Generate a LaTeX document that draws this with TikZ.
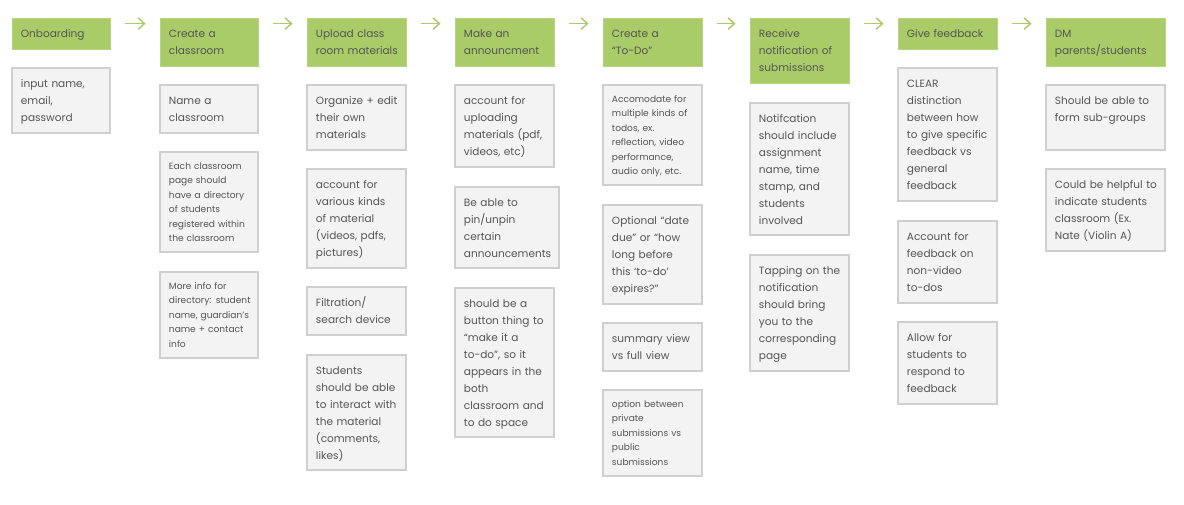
\documentclass[tikz,border=0pt]{standalone}
\usepackage{fontspec}
\setmainfont{Poppins}
\usetikzlibrary{fit,calc,arrows.meta}
\definecolor{hdrgreen}{HTML}{A9CB68}
\definecolor{cardfill}{HTML}{F3F3F3}
\definecolor{cardline}{HTML}{CFCFCF}
\definecolor{txtgray}{HTML}{555555}
\tikzset{
  hdr/.style={fill=hdrgreen, draw=hdrgreen!85!white, line width=0.6pt, inner sep=0pt},
  box/.style={fill=cardfill, draw=cardline, line width=1.1pt, inner sep=0pt},
  big/.style={font=\fontsize{7.9}{12.75}\selectfont, text=txtgray, text width=140pt, align=left, inner sep=0pt},
  small/.style={font=\fontsize{6.8}{10.9}\selectfont, text=txtgray, text width=140pt, align=left, inner sep=0pt},
  arr/.style={draw=hdrgreen, line width=1.1pt, -{Straight Barb[length=4.8pt,width=8.5pt,line width=1.1pt]}}
}
\newcommand\mkcard[9]{%
  \node[#2, fit={(#4,#5) (#6,#7)}] (#1) {};
  \node[#3, anchor=base west] (#1-t) at ({#4+8.7},{#5+#8}) {#9};
}
\begin{document}
\begin{tikzpicture}[x=0.75pt,y=-0.75pt]
\useasboundingbox (0,0) rectangle (1184,504);
% column 1
\mkcard{h1}{hdr}{big}{12}{18}{110}{49}{19}{Onboarding}
\mkcard{c1a}{box}{big}{12}{68}{110}{133}{19}{input name,\\ email,\\ password}
% column 2
\mkcard{h2}{hdr}{big}{160}{18}{258}{66}{19}{Create a\\ classroom}
\mkcard{c2a}{box}{big}{160}{85}{258}{133}{19}{Name a\\ classroom}
\mkcard{c2b}{box}{small}{160}{152}{258}{252}{17}{Each classroom\\ page should\\ have a directory\\ of students\\ registered within\\ the classroom}
\mkcard{c2c}{box}{small}{160}{272}{258}{358}{17}{More info for\\ directory: student\\ name, guardian’s\\ name + contact\\ info}
% column 3
\mkcard{h3}{hdr}{big}{307}{18}{406}{66}{19}{Upload class\\ room materials}
\mkcard{c3a}{box}{big}{307}{85}{406}{150}{19}{Organize + edit\\ their own\\ materials}
\mkcard{c3b}{box}{big}{307}{169}{406}{268}{19}{account for\\ various kinds\\ of material\\ (videos, pdfs,\\ pictures)}
\mkcard{c3c}{box}{big}{307}{287}{406}{335}{19}{Filtration/\\ search device}
\mkcard{c3d}{box}{big}{307}{355}{406}{470}{19}{Students\\ should be able\\ to interact with\\ the material\\ (comments,\\ likes)}
% column 4
\mkcard{h4}{hdr}{big}{455}{18}{554}{66}{19}{Make an\\ announcment}
\mkcard{c4a}{box}{big}{455}{85}{554}{167}{19}{account for\\ uploading\\ materials (pdf,\\ videos, etc)}
\mkcard{c4b}{box}{big}{455}{187}{559}{268}{19}{Be able to\\ pin/unpin\\ certain\\ announcements}
\mkcard{c4c}{box}{big}{455}{288}{554}{437}{19}{should be a\\ button thing to\\ “make it a\\ to-do”, so it\\ appears in the\\ both\\ classroom and\\ to do space}
% column 5
\mkcard{h5}{hdr}{big}{603}{18}{702}{66}{19}{Create a\\ “To-Do”}
\mkcard{c5a}{box}{small}{603}{85}{702}{185}{17}{Accomodate for\\ multiple kinds of\\ todos, ex.\\ reflection, video\\ performance,\\ audio only, etc.}
\mkcard{c5b}{box}{big}{603}{205}{702}{304}{19}{Optional “date\\ due” or “how\\ long before\\ this ‘to-do’\\ expires?”}
\mkcard{c5c}{box}{big}{603}{323}{702}{371}{19}{summary view\\ vs full view}
\mkcard{c5d}{box}{small}{603}{390}{702}{476}{17}{option between\\ private\\ submissions vs\\ public\\ submissions}
% column 6
\mkcard{h6}{hdr}{big}{750}{18}{849}{83}{19}{Receive\\ notification of\\ submissions}
\mkcard{c6a}{box}{big}{750}{103}{849}{235}{19}{Notifcation\\ should include\\ assignment\\ name, time\\ stamp, and\\ students\\ involved}
\mkcard{c6b}{box}{big}{750}{255}{849}{371}{19}{Tapping on the\\ notification\\ should bring\\ you to the\\ corresponding\\ page}
% column 7
\mkcard{h7}{hdr}{big}{898}{18}{997}{49}{19}{Give feedback}
\mkcard{c7a}{box}{big}{898}{68}{997}{201}{19}{CLEAR\\ distinction\\ between how\\ to give specific\\ feedback vs\\ general\\ feedback}
\mkcard{c7b}{box}{big}{898}{221}{997}{303}{19}{Account for\\ feedback on\\ non-video\\ to-dos}
\mkcard{c7c}{box}{big}{898}{322}{997}{404}{19}{Allow for\\ students to\\ respond to\\ feedback}
% column 8
\mkcard{h8}{hdr}{big}{1046}{18}{1165}{66}{19}{DM\\ parents/students}
\mkcard{c8a}{box}{big}{1046}{85}{1165}{150}{19}{Should be able to\\ form sub-groups}
\mkcard{c8b}{box}{big}{1046}{169}{1165}{251}{19}{Could be helpful to\\ indicate students\\ classroom (Ex.\\ Nate (Violin A)}
% arrows
\foreach \a/\b in {h1/h2,h2/h3,h3/h4,h4/h5,h5/h6,h6/h7,h7/h8}{
  \draw[arr] ($(\a.north east)+(15,6)$) -- ($(\b.north west)+(-14,6)$);
}
\end{tikzpicture}
\end{document}
